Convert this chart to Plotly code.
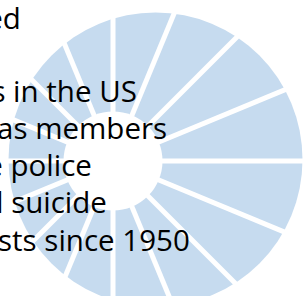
import numpy as np
import plotly.graph_objects as go

# ---- content -------------------------------------------------------------
title_lines = [
    "Number of people killed",
    "in mass shootings in the US",
    "who served as members",
    "killed by the police",
    "by homicide and suicide",
    "killed by terrorists since 1950",
]
segment_count = 16                      # equal sunburst segments
ray_angles_deg = [i * 360.0 / segment_count for i in range(segment_count)]

# ---- layout geometry (pixels) -------------------------------------------
W, H = 303, 296
ray_center = (113.0, 161.0)
hole_radius = 49.5
disc_center = (155.5, 159.5)
disc_radius = 147.0
ray_len = 260.0
line_right = [22.5, 139.0, 169.0, 94.0, 108.5, 192.0]
line_mid_y = [17.0, 90.0, 127.0, 164.0, 201.0, 239.0]
font_size = 29.5

blue = "#c6dbef"

fig = go.Figure()

# rays as white lines between segments
xs, ys = [], []
cx, cy = ray_center
for a in ray_angles_deg:
    t = np.deg2rad(a)
    xs += [cx, cx + ray_len * np.cos(t), None]
    ys += [cy, cy - ray_len * np.sin(t), None]
fig.add_trace(go.Scatter(x=xs, y=ys, mode="lines",
                         line=dict(color="white", width=5),
                         hoverinfo="skip", showlegend=False))

shapes = [
    dict(type="circle", xref="x", yref="y", layer="below",
         x0=disc_center[0] - disc_radius, x1=disc_center[0] + disc_radius,
         y0=disc_center[1] - disc_radius, y1=disc_center[1] + disc_radius,
         fillcolor=blue, line=dict(width=0)),
    dict(type="circle", xref="x", yref="y", layer="below",
         x0=cx - hole_radius, x1=cx + hole_radius,
         y0=cy - hole_radius, y1=cy + hole_radius,
         fillcolor="white", line=dict(width=0)),
]

annotations = []
for txt, xr, ym in zip(title_lines, line_right, line_mid_y):
    annotations.append(dict(text=txt, x=xr, y=ym, xref="x", yref="y",
                            xanchor="right", yanchor="middle",
                            showarrow=False, align="left",
                            font=dict(family="Open Sans", size=font_size,
                                      color="black")))

fig.update_layout(
    width=W, height=H,
    margin=dict(l=0, r=0, t=0, b=0),
    paper_bgcolor="white", plot_bgcolor="white",
    xaxis=dict(range=[0, W], visible=False, fixedrange=True),
    yaxis=dict(range=[H, 0], visible=False, fixedrange=True),
    shapes=shapes, annotations=annotations,
    showlegend=False,
)

fig.write_html("out.html", config={"displayModeBar": False},
               post_script="document.body.style.margin='0';")
